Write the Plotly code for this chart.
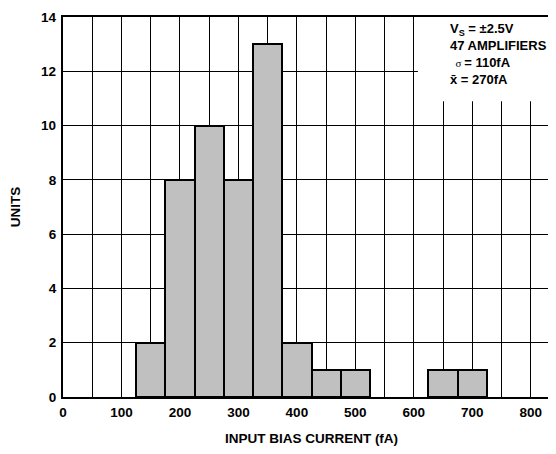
import plotly.graph_objects as go

# Data: histogram bins (center, fA) and counts
bin_centers = [150, 200, 250, 300, 350, 400, 450, 500, 650, 700]
counts = [2, 8, 10, 8, 13, 2, 1, 1, 1, 1]
bin_width = 50
x_ticks = [0, 100, 200, 300, 400, 500, 600, 700, 800]
y_ticks = [0, 2, 4, 6, 8, 10, 12, 14]

FONT = "Liberation Sans, Arial, sans-serif"
FS = 13.5

fig = go.Figure()
fig.add_trace(go.Bar(
    x=bin_centers, y=counts, width=[bin_width] * len(bin_centers),
    marker=dict(color="#c0c0c0", line=dict(color="black", width=2)),
    showlegend=False, hoverinfo="skip",
))

# white area behind the condition text (hides grid there)
fig.add_shape(type="rect", xref="x", yref="y", x0=607, x1=850, y0=10.9, y1=14,
              fillcolor="white", line=dict(width=0), layer="between")

fig.add_annotation(
    xref="paper", yref="paper", x=0.978, y=0.995, xanchor="right", yanchor="top",
    showarrow=False, align="left",
    text=("<b>V<sub>S</sub> = ±2.5V</b><br><b>47 AMPLIFIERS</b><br>"
          "<span style='font-family:Liberation Serif;font-size:11px'>  σ </span><b>= 110fA</b><br>"
          "<b>x̄ = 270fA</b>"),
    font=dict(family=FONT, size=13, color="black"),
)

fig.update_layout(
    width=556, height=454,
    margin=dict(l=55, r=2, t=8, b=65),
    paper_bgcolor="white", plot_bgcolor="white",
    font=dict(family=FONT, size=FS, color="black"),
    bargap=0,
    xaxis=dict(
        range=[0, 850], tickvals=x_ticks,
        tickfont=dict(family=FONT, size=FS, weight="bold"),
        showgrid=True, gridcolor="black", gridwidth=1.4,
        minor=dict(dtick=50, tick0=0, showgrid=True, gridcolor="black", gridwidth=1.4),
        showline=True, linecolor="black", linewidth=2.3, mirror=True,
        ticks="", zeroline=False, ticklabelstandoff=2,
        title=dict(text="INPUT BIAS CURRENT (fA)", standoff=14,
                   font=dict(family=FONT, size=FS, weight="bold")),
        fixedrange=True,
    ),
    yaxis=dict(
        range=[0, 14], tickvals=y_ticks,
        tickfont=dict(family=FONT, size=FS, weight="bold"),
        showgrid=True, gridcolor="black", gridwidth=1.4,
        showline=True, linecolor="black", linewidth=2.3, mirror=True,
        ticks="", zeroline=False, ticklabelstandoff=2,
        title=dict(text="UNITS", standoff=17,
                   font=dict(family=FONT, size=FS, weight="bold")),
        fixedrange=True,
    ),
)

fig.write_html("out.html")
